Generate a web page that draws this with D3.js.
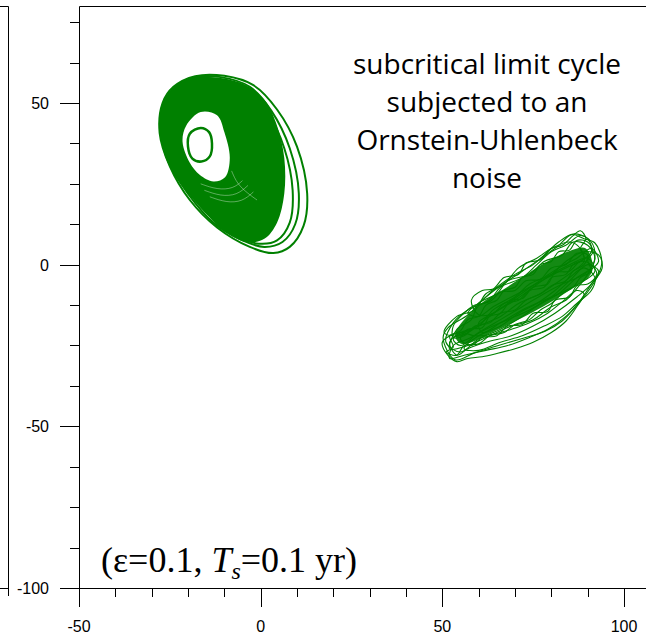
<!DOCTYPE html>
<html>
<head>
<meta charset="utf-8">
<script src="https://cdn.jsdelivr.net/npm/d3@7"></script>
<style>
  body { margin: 0; background: #fff; }
  svg { display: block; }
</style>
</head>
<body>
<div id="chart"></div>
<script>
// Axis ticks
var xMajor = [-50, 0, 50, 100];
var xMinor = [-40, -30, -20, -10, 10, 20, 30, 40, 60, 70, 80, 90];
var yMajor = [-100, -50, 0, 50];
var yMinor = [-87.5, -75, -62.5, -37.5, -25, -12.5, 12.5, 25, 37.5, 62.5, 75];

// Left attractor (subcritical limit cycle)
var bandOuter = [[-24.5,54],[-20,57.5],[-13,58],[-5,56],[1,51],[4.5,43],[6.5,33],[6.5,22],[4.5,13],[1,8],[-4,7],[-10,10.5],[-16,17],[-22,25],[-26,33],[-27.8,41],[-27.2,49]];
var bandHole = [[-16.5,47.2],[-12,46.2],[-10,41],[-8.5,33],[-9.8,27],[-13,25.7],[-16.8,27.8],[-19.5,31.5],[-21.5,38],[-20.5,43]];
var outerLoops = [
  [[-24,55],[-18,58.3],[-10,58.4],[-2,55.5],[4.5,48],[10,36.5],[12.8,22],[11.8,12],[8,5.5],[3.5,3.6],[-3,5.5],[-12,11.5],[-19.5,20],[-25,30.4],[-27.8,40.7],[-27,50]],
  [[-23.5,55],[-18,58],[-11,58],[-3,55],[3,47.5],[8,36],[10.5,22],[9.5,12.5],[6,7],[1,5.5],[-5,7.5],[-13,13],[-20,22],[-25.5,32],[-27.5,42],[-26.5,50.5]],
  [[-23,54.5],[-18,57.5],[-11,57.2],[-4,54.5],[2,47],[6.5,36],[8.8,23],[8,13],[4.5,7.5],[-0.5,6.5],[-6,8.5],[-13.5,14.5],[-20,23],[-25,33],[-27,42],[-26,50]]
];
var innerCycle = [[-16.5,42.3],[-14.2,41],[-13.4,37.5],[-14,33.5],[-16.3,31.9],[-18.8,32.8],[-20,36.5],[-19.5,40.5]];
// thin white gaps just under the hole
var bandGaps = [
  [[-16.5,25],[-12,23.2],[-7.5,23.5],[-5,26]],
  [[-15.5,23],[-11,21.2],[-6.5,21.5],[-3.5,24.5]],
  [[-14,21],[-9.5,19.2],[-5,19.5],[-2,22.5]],
  [[-8,29],[-6.5,25],[-3.5,22],[-1,20]]
];

// Right attractor (noisy cloud)
var cloudCore = [[53.5,-21.7],[59.8,-12.8],[68,-6.8],[78.3,0.6],[85,4.2],[89.5,5],[91.2,-2.2],[84.6,-8.2],[75.5,-14.3],[64.5,-20.5],[55.4,-24.5]];
var cloudLoops = [
  [[53.5,-29.4],[50.2,-22.6],[51.6,-19.5],[57.1,-15.5],[61.8,-10.2],[66.4,-6.2],[71.9,-2.1],[77.4,2.2],[81.8,5.7],[85.6,9.3],[89,8],[92,6.7],[93.9,1],[92.9,-3.1],[90.1,-8.3],[86.5,-13.3],[82.9,-17.5],[78.3,-20.6],[70.8,-23.2],[64.5,-25.3],[59,-27.2]],
  [[52,-26],[54,-20],[58,-17],[60,-12],[65,-9],[68,-5],[74,-3],[78,1],[83,3],[86,7],[90,6],[92,2],[90,-3],[88,-6],[84,-11],[80,-13],[75,-17],[69,-19],[63,-22],[57,-25]],
  [[51,-24],[53,-18],[57,-14],[63,-11],[66,-7],[72,-4],[76,0],[80,4],[84,6],[88,9],[91,7],[92,3],[91,-1],[87,-4],[82,-9],[77,-12],[72,-16],[66,-20],[60,-23],[55,-27]],
  [[54,-28],[52,-24],[55,-21],[60,-19],[64,-14],[70,-10],[74,-6],[80,-3],[84,1],[89,4],[93,3],[94,-1],[91,-6],[87,-10],[81,-15],[75,-19],[69,-22],[62,-24],[57,-26]],
  [[50.5,-21],[54,-16],[59,-14],[62,-9],[67,-6],[71,-1],[76,2],[80,5],[85,7],[88,5],[89,1],[86,-2],[81,-6],[77,-9],[71,-12],[66,-16],[60,-19],[55,-22]],
  [[56,-26],[60,-22],[66,-19],[71,-15],[76,-12],[81,-8],[85,-4],[89,-1],[92,-4],[91,-8],[87,-12],[83,-16],[78,-19],[72,-22],[66,-24],[60,-26.5]],
  [[52,-29],[56,-28],[62,-26.5],[68,-25],[74,-22.5],[79,-20],[84,-16],[88,-11],[91,-6],[93,-2],[90,0],[85,-5],[80,-10],[74,-14],[68,-17],[62,-20],[57,-23],[53,-25]],
  [[57,-15],[61,-11],[65,-7],[70,-3],[75,0],[79,4],[82,7],[86,9.5],[90,8],[91,4],[88,1],[84,-1],[79,-4],[74,-7],[69,-10],[64,-13],[60,-16]],
  [[60,-18],[64,-15],[70,-11],[75,-7],[80,-3],[85,0],[90,2],[92,-2],[89,-5],[84,-8],[78,-11],[72,-14],[66,-18],[61,-21]],
  [[53,-23],[58,-20],[63,-16],[68,-12],[73,-8],[78,-4],[82,-1],[87,2],[91,5],[93,1],[89,-3],[83,-6],[78,-9],[72,-13],[66,-17],[60,-21],[55,-25]],
  [[51,-27],[53,-25.5],[52,-22],[55,-20.5],[57,-17],[60,-16],[62,-12.5],[65,-11],[67,-8],[70,-7],[72,-4],[75,-3],[77,0],[80,1],[82,4],[85,4.5],[87,7.5],[90,7],[91.5,4],[90,1.5],[91,-2],[88,-4],[86,-7],[83,-9],[80,-12],[77,-14],[74,-17],[70,-18.5],[67,-21],[63,-22],[60,-24.5],[56,-25],[54,-28]],
  [[55,-23],[57,-20],[61,-19.5],[63,-16],[66,-15],[69,-11],[72,-10.5],[75,-7],[79,-6],[81,-2.5],[85,-2],[88,1],[91,0],[92.5,-3],[90,-6],[87,-6.5],[85,-10],[81,-11],[79,-14.5],[75,-15],[72,-18.5],[68,-19],[65,-22],[61,-22.5],[58,-25]],
  [[58,-11],[61,-8],[64,-7.5],[67,-4],[71,-3],[73,0.5],[77,1.5],[80,5],[83,6],[86,9],[88,10.5],[89.5,8],[88,5],[89,2],[86,0],[84,-3],[80,-4],[78,-7],[74,-8],[71,-11],[67,-12],[64,-15],[60,-15.5]],
  [[50,-24],[51.5,-28],[54,-30],[57,-29],[61,-28.5],[65,-27.5],[70,-26],[75,-24],[80,-21],[84,-17.5],[87,-13],[89,-9],[87,-8],[83,-11.5],[79,-15],[74,-18],[69,-20],[64,-21.5],[59,-22],[55,-21]],
  [[53,-19],[56,-15],[59,-12.5],[63,-11.5],[66,-8.5],[70,-8],[73,-5],[77,-4.5],[80,-1],[84,0],[87,3.5],[90,3],[89,0],[86,-2],[84,-5],[80,-6.5],[77,-9],[73,-11],[70,-14],[66,-15],[63,-18],[59,-19],[56,-22],[53,-22.5]]
];

var noteLines = ["subcritical limit cycle", "subjected to an", "Ornstein-Uhlenbeck", "noise"];

var svgWidth = 646, svgHeight = 637;
var green = "#008000";

var svg = d3.select("#chart").append("svg")
  .attr("width", svgWidth)
  .attr("height", svgHeight);

var x = d3.scaleLinear().domain([-50, 100]).range([79, 624]);
var y = d3.scaleLinear().domain([-100, 80]).range([588, 6]);

var line = d3.line()
  .x(function(d) { return x(d[0]); })
  .y(function(d) { return y(d[1]); })
  .curve(d3.curveCatmullRomClosed);

var openLine = d3.line()
  .x(function(d) { return x(d[0]); })
  .y(function(d) { return y(d[1]); })
  .curve(d3.curveBasis);

// neighbouring panel edge on the far left
svg.append("path")
  .attr("d", "M0,6.5H8.5V596M0,588.5H8.5")
  .attr("fill", "none")
  .attr("stroke", "#000");

// right cloud
var cloud = svg.append("g");
cloud.append("path")
  .attr("d", line(cloudCore))
  .attr("fill", green)
  .attr("opacity", 0.92);
cloud.selectAll("path.loop")
  .data(cloudLoops)
  .enter().append("path")
    .attr("class", "loop")
    .attr("d", line)
    .attr("fill", "none")
    .attr("stroke", green)
    .attr("stroke-width", 1.1);

// left limit cycle
var cyc = svg.append("g");
cyc.append("path")
  .attr("d", line(bandOuter) + line(bandHole))
  .attr("fill", green)
  .attr("fill-rule", "evenodd");
cyc.selectAll("path.gap")
  .data(bandGaps)
  .enter().append("path")
    .attr("class", "gap")
    .attr("d", openLine)
    .attr("fill", "none")
    .attr("stroke", "#fff")
    .attr("stroke-width", 0.6)
    .attr("opacity", 0.6);
cyc.selectAll("path.outer")
  .data(outerLoops)
  .enter().append("path")
    .attr("class", "outer")
    .attr("d", line)
    .attr("fill", "none")
    .attr("stroke", green)
    .attr("stroke-width", 2);
cyc.append("path")
  .attr("d", line(innerCycle))
  .attr("fill", "none")
  .attr("stroke", green)
  .attr("stroke-width", 2.5);

// frame
svg.append("path")
  .attr("d", "M79.5,607V6.5H646")
  .attr("fill", "none")
  .attr("stroke", "#000");
svg.append("path")
  .attr("d", "M60,588.5H646")
  .attr("fill", "none")
  .attr("stroke", "#000");

// x axis ticks
var xAxis = svg.append("g").attr("class", "axis");
xAxis.selectAll("line.maj").data(xMajor).enter().append("line")
  .attr("x1", function(d) { return Math.round(x(d)) + 0.5; })
  .attr("x2", function(d) { return Math.round(x(d)) + 0.5; })
  .attr("y1", 588).attr("y2", 607)
  .attr("stroke", "#000");
xAxis.selectAll("line.min").data(xMinor).enter().append("line")
  .attr("x1", function(d) { return Math.round(x(d)) + 0.5; })
  .attr("x2", function(d) { return Math.round(x(d)) + 0.5; })
  .attr("y1", 588).attr("y2", 597)
  .attr("stroke", "#000");
xAxis.selectAll("text").data(xMajor).enter().append("text")
  .attr("x", function(d) { return x(d); })
  .attr("y", 632)
  .attr("text-anchor", "middle")
  .style("font-family", "'Liberation Sans', Arial, sans-serif")
  .style("font-size", "16px")
  .text(function(d) { return d; });

// y axis ticks
var yAxis = svg.append("g").attr("class", "axis");
yAxis.selectAll("line.maj").data(yMajor).enter().append("line")
  .attr("y1", function(d) { return Math.round(y(d)) + 0.5; })
  .attr("y2", function(d) { return Math.round(y(d)) + 0.5; })
  .attr("x1", 60).attr("x2", 79)
  .attr("stroke", "#000");
yAxis.selectAll("line.min").data(yMinor).enter().append("line")
  .attr("y1", function(d) { return Math.round(y(d)) + 0.5; })
  .attr("y2", function(d) { return Math.round(y(d)) + 0.5; })
  .attr("x1", 70).attr("x2", 79)
  .attr("stroke", "#000");
yAxis.selectAll("text").data(yMajor).enter().append("text")
  .attr("x", 49)
  .attr("y", function(d) { return y(d) + 6; })
  .attr("text-anchor", "end")
  .style("font-family", "'Liberation Sans', Arial, sans-serif")
  .style("font-size", "16px")
  .text(function(d) { return d; });

// annotation
svg.append("g").selectAll("text")
  .data(noteLines)
  .enter().append("text")
    .attr("x", 487)
    .attr("y", function(d, i) { return 74 + i * 38; })
    .attr("text-anchor", "middle")
    .style("font-family", "'Open Sans', sans-serif")
    .style("font-size", "28px")
    .text(function(d) { return d; });

var lab = svg.append("text")
  .attr("x", 101)
  .attr("y", 572)
  .style("font-family", "'Liberation Serif', 'Times New Roman', serif")
  .style("font-size", "36px");
lab.append("tspan").text("(\u03b5=0.1, ");
lab.append("tspan").style("font-style", "italic").text("T");
lab.append("tspan").style("font-style", "italic").style("font-size", "24px").attr("dy", 7).text("s");
lab.append("tspan").attr("dy", -7).text("=0.1 yr)");
</script>
</body>
</html>
